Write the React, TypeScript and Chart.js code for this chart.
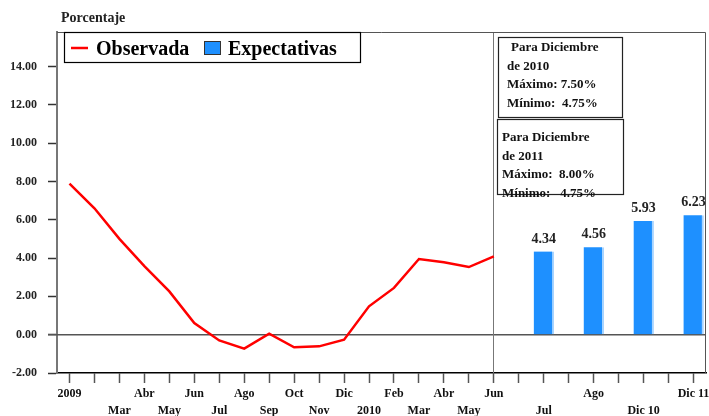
import React, { useEffect, useRef } from "react";
import { Chart, registerables } from "chart.js";

Chart.register(...registerables);

const categories = [
  "2009", "Feb", "Mar", "Abr", "May", "Jun", "Jul", "Ago", "Sep", "Oct", "Nov", "Dic",
  "2010", "Feb", "Mar", "Abr", "May", "Jun",
  "", "Jul", "", "Ago", "", "Dic 10", "", "Dic 11",
];
const hiddenLabels = [1]; // Feb 2009 has no label
const observada = [
  7.88, 6.6, 5.0, 3.58, 2.26, 0.61, -0.3, -0.73, 0.05, -0.66, -0.61, -0.26,
  1.48, 2.44, 3.95, 3.78, 3.53, 4.09,
];
const expectativaIdx = [19, 21, 23, 25];
const expectativas = [4.34, 4.56, 5.93, 6.23];
const yTicks = [-2, 0, 2, 4, 6, 8, 10, 12, 14];
const notes = [
  ["Para Diciembre", "de 2010", "Máximo: 7.50%", "Mínimo:  4.75%"],
  ["Para Diciembre", "de 2011", "Máximo:  8.00%", "Mínimo:   4.75%"],
];
const dividerIndex = 17;

const SERIF = "'Liberation Serif', 'DejaVu Serif', serif";
const RED = "#ff0000";
const BLUE = "#1e90ff";

export default function App() {
  const ref = useRef<HTMLCanvasElement>(null);
  useEffect(() => {
    const lineData = categories.map((_, i) => (i < observada.length ? observada[i] : null));
    const barData = categories.map((_, i) => {
      const k = expectativaIdx.indexOf(i);
      return k >= 0 ? expectativas[k] : null;
    });
    // row assignment: visible labels alternate top/bottom
    const rows: number[] = [];
    let count = 0;
    categories.forEach((c, i) => {
      const visible = c !== "" && !hiddenLabels.includes(i);
      rows.push(visible ? count % 2 : 0);
      if (visible) count++;
    });

    const overlay = {
      id: "overlay",
      beforeDatasetsDraw(chart: any) {
        const { ctx, chartArea: a, scales } = chart;
        const y0 = scales.y.getPixelForValue(0);
        const xd = scales.x.getPixelForValue(dividerIndex);
        ctx.save();
        ctx.strokeStyle = "#555";
        ctx.lineWidth = 1.5;
        ctx.beginPath();
        ctx.moveTo(a.left - 9, y0);
        ctx.lineTo(a.right, y0);
        ctx.stroke();
        ctx.strokeStyle = "#777";
        ctx.lineWidth = 1;
        ctx.beginPath();
        ctx.moveTo(Math.round(xd) - 0.5, a.top);
        ctx.lineTo(Math.round(xd) - 0.5, a.bottom);
        ctx.stroke();
        ctx.restore();
      },
      afterDraw(chart: any) {
        const { ctx, chartArea: a } = chart;
        ctx.save();
        // frame top/right
        ctx.strokeStyle = "#555";
        ctx.lineWidth = 1;
        ctx.beginPath();
        ctx.moveTo(a.left, a.top + 0.5);
        ctx.lineTo(a.right - 0.5, a.top + 0.5);
        ctx.lineTo(a.right - 0.5, a.bottom);
        ctx.stroke();

        // title
        ctx.fillStyle = "#222";
        ctx.font = `bold 14px ${SERIF}`;
        ctx.textBaseline = "alphabetic";
        ctx.textAlign = "left";
        ctx.fillText("Porcentaje", 61, 22);

        // legend
        ctx.fillStyle = "#fff";
        ctx.fillRect(64.5, 32.5, 296, 30);
        ctx.strokeStyle = "#000";
        ctx.lineWidth = 1.2;
        ctx.strokeRect(64.5, 32.5, 296, 30);
        ctx.strokeStyle = RED;
        ctx.lineWidth = 2.5;
        ctx.beginPath();
        ctx.moveTo(71, 48);
        ctx.lineTo(88, 48);
        ctx.stroke();
        ctx.fillStyle = "#000";
        ctx.font = `bold 20px ${SERIF}`;
        ctx.fillText("Observada", 96, 55);
        ctx.fillStyle = BLUE;
        ctx.fillRect(204, 41, 17, 14);
        ctx.strokeStyle = "#333";
        ctx.lineWidth = 1;
        ctx.strokeRect(204.5, 41.5, 16, 13);
        ctx.fillStyle = "#000";
        ctx.fillText("Expectativas", 228, 55);

        // annotation boxes
        const boxes = [
          { x: 498.5, y: 37.5, w: 124, h: 80, tx: 507, ty: 51 },
          { x: 497.5, y: 119.5, w: 126, h: 75, tx: 502, ty: 141 },
        ];
        ctx.font = `bold 13px ${SERIF}`;
        boxes.forEach((b, bi) => {
          ctx.fillStyle = "#fff";
          ctx.fillRect(b.x, b.y, b.w, b.h);
          ctx.strokeStyle = "#222";
          ctx.lineWidth = 1.2;
          ctx.strokeRect(b.x, b.y, b.w, b.h);
          ctx.fillStyle = "#111";
          notes[bi].forEach((t, li) => {
            const dx = bi === 0 && li === 0 ? 4 : 0;
            ctx.fillText(t, b.tx + dx, b.ty + li * 18.5);
          });
        });

        // bar value labels
        const meta = chart.getDatasetMeta(1);
        ctx.font = `bold 14px ${SERIF}`;
        ctx.textAlign = "center";
        ctx.fillStyle = "#222";
        meta.data.forEach((el: any, i: number) => {
          const v = barData[i];
          if (v == null) return;
          ctx.fillText(v.toFixed(2), el.x, el.y - 9);
        });
        ctx.restore();
      },
    };

    const chart = new Chart(ref.current!, {
      type: "bar",
      data: {
        labels: categories,
        datasets: [
          {
            type: "line",
            label: "Observada",
            data: lineData,
            borderColor: RED,
            backgroundColor: RED,
            borderWidth: 2.5,
            pointRadius: 0,
            tension: 0,
            spanGaps: false,
            order: 0,
          } as any,
          {
            type: "bar",
            label: "Expectativas",
            data: barData,
            backgroundColor: BLUE,
            borderColor: "#a8d4ff",
            borderWidth: { top: 0, left: 0, bottom: 0, right: 2 },
            borderSkipped: false,
            barThickness: 20,
            grouped: false,
            order: 1,
          } as any,
        ],
      },
      options: {
        animation: false,
        responsive: false,
        maintainAspectRatio: false,
        layout: { padding: { left: 0, top: 32, right: 3, bottom: 0 } },
        plugins: { legend: { display: false }, tooltip: { enabled: false } },
        scales: {
          x: {
            type: "category",
            offset: true,
            grid: {
              offset: false,
              drawOnChartArea: false,
              drawTicks: true,
              tickLength: 10,
              tickWidth: 1.5,
              tickColor: "#555",
            },
            border: { color: "#000", width: 1.5 },
            ticks: {
              autoSkip: false,
              maxRotation: 0,
              minRotation: 0,
              padding: 3,
              color: "#111",
              font: { family: SERIF, size: 12, weight: "bold", lineHeight: 1.4 },
              callback: (_v: any, i: number) => {
                const l = hiddenLabels.includes(i) ? "" : categories[i];
                return rows[i] === 0 ? [l, ""] : ["", l];
              },
            },
            afterFit: (s: any) => {
              s.height = 43;
              s.paddingLeft = 0;
              s.paddingRight = 0;
            },
          },
          y: {
            min: -2,
            max: 15.8,
            grid: {
              drawOnChartArea: false,
              drawTicks: true,
              tickLength: 9,
              tickWidth: 1.5,
              tickColor: "#333",
            },
            border: { color: "#777", width: 2 },
            afterBuildTicks: (s: any) => {
              s.ticks = yTicks.map((v) => ({ value: v }));
            },
            ticks: {
              padding: 11,
              color: "#222",
              font: { family: SERIF, size: 12, weight: "bold" },
              callback: (v: any) => Number(v).toFixed(2),
            },
            afterFit: (s: any) => {
              s.width = 57;
              s.paddingTop = 0;
              s.paddingBottom = 0;
            },
          },
        },
      },
      plugins: [overlay],
    } as any);
    return () => chart.destroy();
  }, []);

  return (
    <div style={{ position: "fixed", left: 0, top: 0, width: 709, height: 416, background: "#fff" }}>
      <canvas ref={ref} width={709} height={416} style={{ width: 709, height: 416 }} />
    </div>
  );
}
